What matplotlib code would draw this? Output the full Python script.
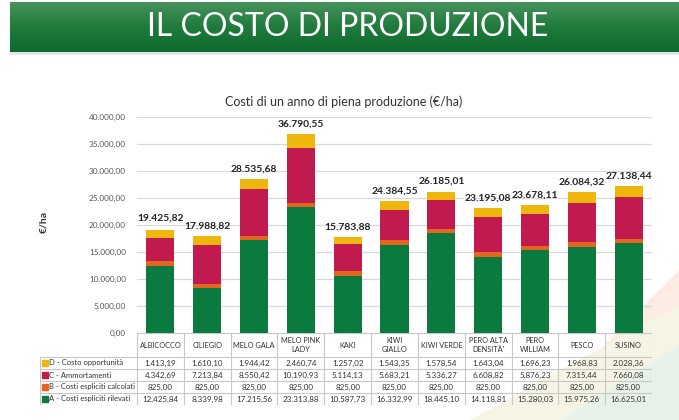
import matplotlib
matplotlib.use("Agg")
import matplotlib.pyplot as plt
import numpy as np
from matplotlib.patches import Polygon, Rectangle
from matplotlib.colors import LinearSegmentedColormap

plt.rcParams['font.family'] = ['Lato', 'DejaVu Sans']

# ---------------- data ----------------
categories = ["ALBICOCCO", "CILIEGIO", "MELO GALA", "MELO PINK\nLADY", "KAKI",
              "KIWI\nGIALLO", "KIWI VERDE", "PERO ALTA\nDENSITÀ'", "PERO\nWILLIAM",
              "PESCO", "SUSINO"]
A_rilevati = [12425.84, 8339.98, 17215.56, 23313.88, 10587.73, 16332.99,
              18445.10, 14118.81, 15280.03, 15975.26, 16625.01]
B_calcolati = [825.00, 825.00, 825.00, 825.00, 825.00, 825.00,
               825.00, 825.00, 825.00, 825.00, 825.00]
C_ammortamenti = [4342.69, 7213.84, 8550.42, 10190.93, 5114.13, 5683.21,
                  5336.27, 6608.82, 5876.23, 7315.44, 7660.08]
D_opportunita = [1413.19, 1610.10, 1944.42, 2460.74, 1257.02, 1543.35,
                 1578.54, 1643.04, 1696.23, 1968.83, 2028.36]
totals = [19425.82, 17988.82, 28535.68, 36790.55, 15783.88, 24384.55,
          26185.01, 23195.08, 23678.11, 26084.32, 27138.44]
series_names = ["D - Costo opportunità", "C - Ammortamenti",
                "B - Costi espliciti calcolati", "A - Costi espliciti rilevati"]
colors = {"A": "#0b7a3e", "B": "#e2661f", "C": "#c11a4e", "D": "#efb70d"}
y_ticks = [0, 5000, 10000, 15000, 20000, 25000, 30000, 35000, 40000]


def it_fmt(v):
    s = f"{v:,.2f}"
    return s.replace(",", "X").replace(".", ",").replace("X", ".")


W, H = 679, 420
fig = plt.figure(figsize=(W / 100, H / 100), dpi=100)
fig.patch.set_facecolor("white")

# faint background decoration (bottom right)
def fpoly(pts, color):
    p = Polygon([(x / W, 1 - y / H) for x, y in pts], closed=True,
                transform=fig.transFigure, facecolor=color, edgecolor="none",
                zorder=-10)
    fig.patches.append(p)

fpoly([(580, 370), (679, 270), (679, 330), (630, 360)], "#fcece3")
fpoly([(470, 420), (679, 305), (679, 345), (560, 420)], "#f6f4e4")
fpoly([(560, 420), (679, 345), (679, 420)], "#e8f2e8")

# ---------------- header ----------------
hax = fig.add_axes([10 / W, 1 - 52 / H, 669 / W, 50 / H])
grad = np.linspace(0, 1, 100).reshape(-1, 1)
cmap = LinearSegmentedColormap.from_list("g", ["#46935b", "#1f7a3c", "#0f6a2e"])
hax.imshow(grad, aspect="auto", cmap=cmap, extent=[0, 1, 0, 1], origin="upper")
hax.set_xlim(0, 1)
hax.set_ylim(0, 1)
hax.axis("off")
hax.text(0.505, 0.5, "IL COSTO DI PRODUZIONE", color="white", fontsize=23,
         ha="center", va="center")
# shadow under header
fig.add_artist(Rectangle((10 / W, 1 - 55 / H), 669 / W, 3 / H,
                         transform=fig.transFigure, facecolor="#bbbbbb",
                         alpha=0.35, edgecolor="none"))

# ---------------- main chart ----------------
left_px, right_px, top_px, bot_px = 137, 652, 117, 333
ax = fig.add_axes([left_px / W, 1 - bot_px / H, (right_px - left_px) / W,
                   (bot_px - top_px) / H])
ax.patch.set_alpha(0)
x = np.arange(len(categories))
bw = 0.6
A = np.array(A_rilevati)
B = np.array(B_calcolati)
C = np.array(C_ammortamenti)
D = np.array(D_opportunita)
ax.bar(x, A, bw, color=colors["A"], zorder=3)
ax.bar(x, B, bw, bottom=A, color=colors["B"], zorder=3)
ax.bar(x, C, bw, bottom=A + B, color=colors["C"], zorder=3)
ax.bar(x, D, bw, bottom=A + B + C, color=colors["D"], zorder=3)
stack_top = A + B + C + D
for i, t in enumerate(totals):
    ax.annotate(it_fmt(t), (x[i], max(t, stack_top[i])), xytext=(0, 4),
                textcoords="offset points", ha="center", va="bottom",
                fontsize=7.4, fontweight="bold", color="#222222")
ax.set_xlim(-0.5, len(categories) - 0.5)
ax.set_ylim(0, 40000)
ax.set_yticks(y_ticks)
ax.set_yticklabels([it_fmt(v) for v in y_ticks], fontsize=5.9, color="#595959")
ax.set_xticks([])
ax.tick_params(axis="y", length=0, pad=8)
ax.grid(axis="y", color="#d9d9d9", linewidth=0.9, zorder=0)
for s in ax.spines.values():
    s.set_visible(False)

fig.text(344 / W, 1 - 102 / H, "Costi di un anno di piena produzione (€/ha)",
         ha="center", va="center", fontsize=9, color="#333333")
fig.text(44 / W, 1 - 222 / H, "€/ha", rotation=90, ha="center", va="center",
         fontsize=7.5, fontweight="bold", color="#333333")

# ---------------- data table ----------------
col_px = (right_px - left_px) / len(categories)
tab_left = 40
lab_w = (left_px - tab_left) / col_px
tax = fig.add_axes([tab_left / W, 1 - 405 / H, (right_px - tab_left) / W, 72 / H])
tax.set_xlim(-0.5 - lab_w, len(categories) - 0.5)
tax.set_ylim(0, 6)
tax.axis("off")
lc = "#c8c8c8"
lw = 0.8
xl = -0.5 - lab_w
xr = len(categories) - 0.5
for yy in [0, 1, 2, 3, 4]:
    tax.plot([xl, xr], [yy, yy], color=lc, lw=lw)
tax.plot([-0.5, xr], [6, 6], color=lc, lw=lw)
tax.plot([xl, xl], [0, 4], color=lc, lw=lw)
for k in range(len(categories) + 1):
    tax.plot([-0.5 + k, -0.5 + k], [0, 6], color=lc, lw=lw)

for i, c in enumerate(categories):
    tax.text(i, 5, c, ha="center", va="center", fontsize=5.3, color="#333333",
             linespacing=1.3)

rows = [(D_opportunita, colors["D"]), (C_ammortamenti, colors["C"]),
        (B_calcolati, colors["B"]), (A_rilevati, colors["A"])]
for r, ((vals, col), name) in enumerate(zip(rows, series_names)):
    yc = 3.5 - r
    tax.plot([xl + 0.11], [yc], marker="s", markersize=3.8, color=col,
             linestyle="none")
    tax.text(xl + 0.2, yc, name, ha="left", va="center", fontsize=5.5,
             color="#333333")
    for i, v in enumerate(vals):
        tax.text(i, yc, it_fmt(v), ha="center", va="center", fontsize=5.8,
                 color="#333333")

fig.savefig("out.png", dpi=100)
